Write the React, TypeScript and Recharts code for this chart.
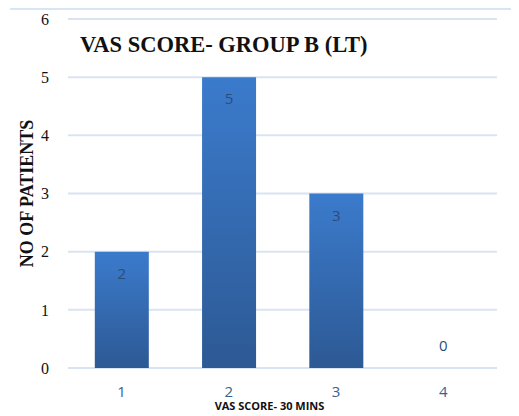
import React from "react";
import { BarChart, Bar, XAxis, YAxis, CartesianGrid, LabelList, Label, ReferenceDot } from "recharts";

const categories = ["1", "2", "3", "4"];
const patients = [2, 5, 3, 0];
const yTicks = [0, 1, 2, 3, 4, 5, 6];

const data = categories.map((c, i) => ({ score: c, patients: patients[i] }));

const SERIF = "'Liberation Serif', 'Times New Roman', Times, serif";
const SANS = "'Open Sans', 'Liberation Sans', sans-serif";

const XTick = (props: any) => {
  const { x, y, payload } = props;
  return (
    <text x={x} y={y + 17} textAnchor="middle" dominantBaseline="middle" fill="#40608f" fontSize={15} fontFamily={SANS}>
      {payload.value}
    </text>
  );
};

const BarValue = (props: any) => {
  const { x, y, width, index } = props;
  const v = patients[index];
  return (
    <text x={Number(x) + Number(width) / 2} y={Number(y) + 23} textAnchor="middle" dominantBaseline="middle" fill="#2c4d7c" fontSize={15} fontFamily={SANS}>
      {v}
    </text>
  );
};

const ZeroValue = (props: any) => {
  const vb = props.viewBox || {};
  const cx = vb.x + (vb.width || 0) / 2;
  const cy = vb.y + (vb.height || 0) / 2;
  return (
    <text x={cx} y={cy - 21} textAnchor="middle" dominantBaseline="middle" fill="#2c4d7c" fontSize={15} fontFamily={SANS}>
      {props.value}
    </text>
  );
};

const XTitle = (props: any) => {
  const vb = props.viewBox || {};
  const cx = vb.x + vb.width / 2 - 13;
  return (
    <text x={cx} y={vb.y + 39} textAnchor="middle" dominantBaseline="middle" fill="#111" fontSize={11} fontWeight="bold" fontFamily={SANS}>
      VAS SCORE- 30 MINS
    </text>
  );
};

export default function App() {
  return (
    <div style={{ position: "relative", width: 511, height: 408, borderTop: "2px solid #d8e5f5", boxSizing: "border-box", marginLeft: 2 }}>
      <div style={{ position: "absolute", left: 70, top: 22, fontFamily: SERIF, fontWeight: "bold", fontSize: 22.5, color: "#111", whiteSpace: "nowrap" }}>
        VAS SCORE- GROUP B (LT)
      </div>
      <BarChart width={509} height={406} data={data} margin={{ top: 9, right: 22, left: 0, bottom: 8 }} barCategoryGap="25%">
        <defs>
          <linearGradient id="barGrad" x1="0" y1="0" x2="0" y2="1">
            <stop offset="0%" stopColor="#3b7bcc" />
            <stop offset="100%" stopColor="#2d5994" />
          </linearGradient>
        </defs>
        <CartesianGrid vertical={false} stroke="#d9e4f3" strokeWidth={2} />
        <XAxis dataKey="score" axisLine={false} tickLine={false} tick={<XTick />} height={40} interval={0}>
          <Label content={<XTitle />} />
        </XAxis>
        <YAxis domain={[0, 6]} ticks={yTicks} axisLine={false} tickLine={false} tickSize={0} tickMargin={19} width={58}
          tick={{ fill: "#111", fontSize: 16, fontFamily: SERIF }}>
          <Label value="NO OF PATIENTS" angle={-90} position="insideLeft" offset={17} style={{ textAnchor: "middle" }} fill="#111" fontSize={18} fontWeight="bold" fontFamily={SERIF} />
        </YAxis>
        <Bar dataKey="patients" fill="url(#barGrad)" isAnimationActive={false}>
          <LabelList dataKey="patients" content={<BarValue />} />
        </Bar>
        {data.filter((d) => d.patients === 0).map((d) => (
          <ReferenceDot key={d.score} x={d.score} y={d.patients} r={0} fill="none" stroke="none" ifOverflow="visible">
            <Label value={d.patients} content={<ZeroValue />} />
          </ReferenceDot>
        ))}
      </BarChart>
    </div>
  );
}
